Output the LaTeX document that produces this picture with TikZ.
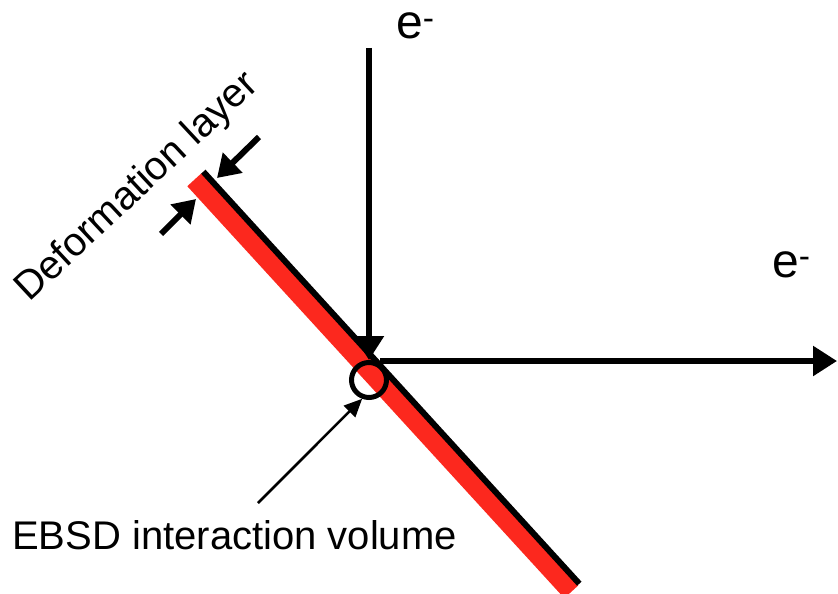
\documentclass[tikz,border=0pt]{standalone}
\usepackage{fontspec}
\setmainfont{Liberation Sans}
\usetikzlibrary{arrows.meta}
\definecolor{bandred}{RGB}{252,40,30}
\begin{document}
\begin{tikzpicture}[x=1pt,y=-1pt,
  bigarrow/.style={line width=5.5pt,-{Triangle[length=24pt,width=29pt]}},
  layerarrow/.style={line width=6pt,-{Triangle[length=22pt,width=27pt]}},
  thinarrow/.style={line width=2.5pt,-{Triangle[length=18pt,width=16pt]}},
  lbl/.style={inner sep=0pt,font=\fontsize{40pt}{48pt}\selectfont},
  elbl/.style={inner sep=0pt,font=\fontsize{48pt}{56pt}\selectfont},
  volcircle/.style={circle,draw,line width=5pt,minimum size=35pt,inner sep=0pt}]
\useasboundingbox (0,0) rectangle (838,594);
% layer and surface
\coordinate (r1) at (194.3,179.8);
\coordinate (r2) at (571.3,591.8);
\coordinate (b1) at (203.3,171.7);
\coordinate (b2) at (579.3,583.7);
\draw[bandred, line width=19pt] (r1) -- (r2);
\draw[black, line width=6pt] (b1) -- (b2);
% interaction volume
\node[volcircle] (vol) at (369,380) {};
% beams
\coordinate (etop) at (369,48);
\draw[bigarrow] (etop) -- (vol.north);
\coordinate (hstart) at (380,361);
\coordinate (hend) at (837,361);
\draw[bigarrow] (hstart) -- (hend);
% labels
\node[elbl, anchor=base west] (etoplbl) at (396,39) {e\textsuperscript{-}};
\node[elbl, anchor=base west] (erightlbl) at (772,277) {e\textsuperscript{-}};
\node[lbl, anchor=base west] (ebsd) at (12,549) {EBSD interaction volume};
\node[lbl, anchor=base west, rotate=43] (defl) at (29,303) {Deformation layer};
% pointer to interaction volume
\coordinate (ptail) at (258,503);
\draw[thinarrow] (ptail) -- (vol.250);
% layer thickness arrows
\coordinate (dtail1) at (259,137);
\coordinate (dtip1) at (217,178);
\coordinate (dtail2) at (161,234);
\coordinate (dtip2) at (196,199);
\draw[layerarrow] (dtail1) -- (dtip1);
\draw[layerarrow] (dtail2) -- (dtip2);
\end{tikzpicture}
\end{document}
